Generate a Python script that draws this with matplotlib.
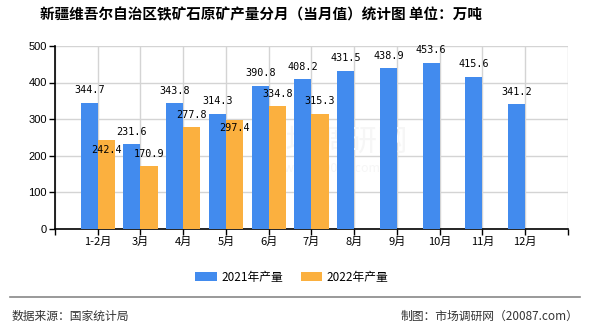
import matplotlib.pyplot as plt
import numpy as np

plt.rcParams['font.family'] = ['Noto Sans CJK SC', 'DejaVu Sans']

# data
months = ['1-2月', '3月', '4月', '5月', '6月', '7月', '8月', '9月', '10月', '11月', '12月']
prod_2021 = [344.7, 231.6, 343.8, 314.3, 390.8, 408.2, 431.5, 438.9, 453.6, 415.6, 341.2]
prod_2022 = [242.4, 170.9, 277.8, 297.4, 334.8, 315.3]
yticks = [0, 100, 200, 300, 400, 500]

# label vertical offsets (points), negative = inside bar
off_2021 = [9, 9, 9, 9, 9, 9, 9, 9, 9, 9, 9]
off_2022 = [-7, 9, 9, -6, 9, 9]

blue = '#428bee'
orange = '#fbb03f'

fig = plt.figure(figsize=(5.9, 3.3), dpi=100)
ax = fig.add_axes([0.0932, 0.306, 0.8695, 0.555])

x = np.arange(len(months))
w = 0.4
b1 = ax.bar(x - w / 2, prod_2021, width=w, color=blue, label='2021年产量', zorder=3)
x2 = np.arange(len(prod_2022))
b2 = ax.bar(x2 + w / 2, prod_2022, width=w, color=orange, label='2022年产量', zorder=3)

for rect, v, o in zip(b1, prod_2021, off_2021):
    ax.annotate(f'{v:.1f}', (rect.get_x() + rect.get_width() / 2, v),
                xytext=(0, o), textcoords='offset points', ha='center', va='center',
                fontsize=7.3, family='DejaVu Sans Mono', zorder=5)
for rect, v, o in zip(b2, prod_2022, off_2022):
    ax.annotate(f'{v:.1f}', (rect.get_x() + rect.get_width() / 2, v),
                xytext=(0, o), textcoords='offset points', ha='center', va='center',
                fontsize=7.3, family='DejaVu Sans Mono', zorder=5)

ax.set_xlim(-1, len(months))
ax.set_ylim(0, 500)
ax.set_yticks(yticks)
ax.set_xticks(np.arange(-1, len(months) + 1))
ax.set_xticklabels([''] + months + [''], fontsize=8)
for lbl in ax.get_yticklabels():
    lbl.set_family('Liberation Sans')
    lbl.set_fontsize(8)
ax.tick_params(length=4, width=1, pad=2, colors='black')
ax.grid(color='#d4d4d4', linewidth=1, zorder=0)
ax.spines['top'].set_visible(False)
ax.spines['right'].set_visible(False)
ax.spines['left'].set_linewidth(1.2)
ax.spines['bottom'].set_linewidth(1.2)

# faint watermark
ax.text(0.54, 0.47, '市场调研网', transform=ax.transAxes, fontsize=22,
        color='#f6f6f6', ha='center', va='center', zorder=2)
ax.text(0.54, 0.33, 'www.20087.com', transform=ax.transAxes, fontsize=9,
        color='#f6f6f6', ha='center', va='center', zorder=2)

fig.text(0.443, 0.955, '新疆维吾尔自治区铁矿石原矿产量分月（当月值）统计图 单位：万吨',
         ha='center', va='center', fontsize=10.5, fontweight='bold')

fig.legend(handles=[b1, b2], loc='center', bbox_to_anchor=(0.495, 0.16), ncol=2,
           frameon=False, fontsize=8.5, handlelength=1.8, handleheight=0.8,
           columnspacing=1.5, handletextpad=0.4)

fig.add_artist(plt.Line2D([0.017, 0.983], [0.1, 0.1], color='#888888', linewidth=1.2))
fig.text(0.02, 0.042, '数据来源：国家统计局', fontsize=8.5, color='#333333', va='center')
fig.text(0.98, 0.042, '制图：市场调研网（20087.com）', fontsize=8.5, color='#333333',
         va='center', ha='right')

fig.savefig('out.png', dpi=100)
